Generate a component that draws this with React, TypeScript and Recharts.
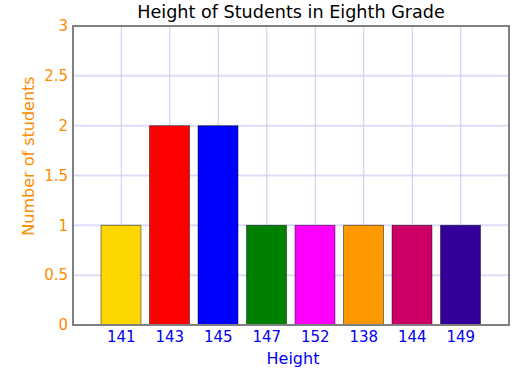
import React from 'react';
import * as R from 'recharts';
import { BarChart, Bar, XAxis, YAxis, CartesianGrid, Cell } from 'recharts';

const heights = ['141', '143', '145', '147', '152', '138', '144', '149'];
const counts = [1, 2, 2, 1, 1, 1, 1, 1];
const barColors = ['#FFD700', '#FF0000', '#0000FF', '#008000', '#FF00FF', '#FF9900', '#CC0066', '#330099'];
const yTicks = [0, 0.5, 1, 1.5, 2, 2.5, 3];

const title = 'Height of Students in Eighth Grade';
const xLabel = 'Height';
const yLabel = 'Number of students';

const data = heights.map((h, i) => ({ height: h, count: counts[i] }));

const FONT = '"DejaVu Sans", Verdana, sans-serif';

const fallbackArea = { x: 73, y: 26, width: 436, height: 299 };
const usePlot: () => any = (R as any).usePlotArea || (R as any).useOffset || (() => null);

function Frame() {
  const p = usePlot();
  let a = fallbackArea;
  if (p && typeof p.x === 'number' && typeof p.width === 'number') a = p;
  else if (p && typeof p.left === 'number' && typeof p.width === 'number') a = { x: p.left, y: p.top, width: p.width, height: p.height };
  return (
    <g>
      <rect x={a.x} y={a.y} width={a.width} height={a.height} fill="none" stroke="#808080" strokeWidth={2} />
      <text x={a.x + a.width / 2} y={18} textAnchor="middle" fill="#000" fontSize={17.6} fontFamily={FONT}>
        {title}
      </text>
    </g>
  );
}

export default function App() {
  return (
    <div style={{ position: 'absolute', left: 0, top: 0, width: 527, height: 375, background: '#fff' }}>
      <BarChart width={527} height={375} data={data} margin={{ top: 26, right: 18, bottom: 0, left: 0 }}>
        <CartesianGrid horizontal={true} vertical={false} stroke="#dcdcf8" strokeWidth={2} />
        <CartesianGrid horizontal={false} vertical={true} stroke="#c8c8f4" strokeWidth={1} />
        <XAxis
          dataKey="height"
          height={50}
          padding={{ left: 24, right: 24 }}
          tickSize={0}
          tickMargin={6}
          tickLine={false}
          axisLine={{ stroke: '#808080', strokeWidth: 2 }}
          tick={{ fill: '#0000ee', fontSize: 15, fontFamily: FONT }}
          interval={0}
          label={{
            content: (props: any) => {
              const vb = props.viewBox || { x: 73, width: 436 };
              return (
                <text x={vb.x + vb.width / 2 + 2} y={364} textAnchor="middle" fill="#0000ee" fontSize={16} fontFamily={FONT}>
                  {xLabel}
                </text>
              );
            },
          }}
        />
        <YAxis
          width={73}
          domain={[0, 3]}
          ticks={yTicks}
          tickSize={0}
          tickMargin={5}
          tickLine={false}
          axisLine={{ stroke: '#808080', strokeWidth: 2 }}
          tick={{ fill: '#ff8c00', fontSize: 15, fontFamily: FONT }}
          label={{
            content: () => (
              <text x={34} y={156} transform="rotate(-90 34 156)" textAnchor="middle" fill="#ff8c00" fontSize={16} fontFamily={FONT}>
                {yLabel}
              </text>
            ),
          }}
        />
        <Bar dataKey="count" barSize={40} stroke="rgba(0,0,0,0.45)" strokeWidth={1} isAnimationActive={false}>
          {data.map((d, i) => (
            <Cell key={d.height} fill={barColors[i]} />
          ))}
        </Bar>
        <Frame />
      </BarChart>
    </div>
  );
}
